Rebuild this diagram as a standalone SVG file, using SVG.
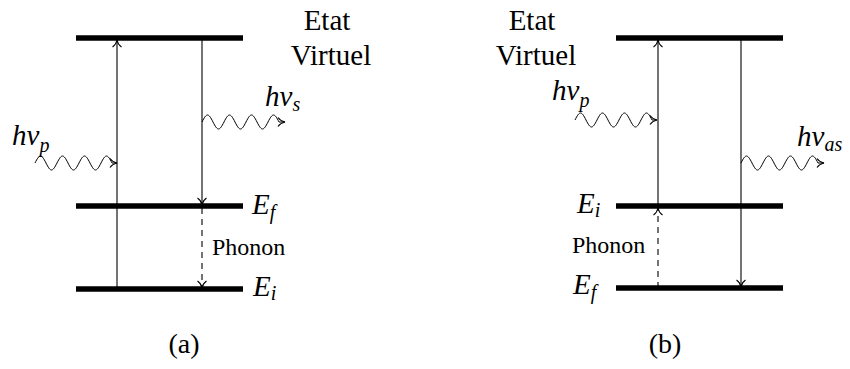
<svg xmlns="http://www.w3.org/2000/svg" width="850" height="369" viewBox="0 0 850 369">
<style>
.bar{stroke:#000;stroke-width:5.5;fill:none}
.ln{stroke:#000;stroke-width:1.1;fill:none}
.dash{stroke-dasharray:6 5}
.wave{stroke:#000;stroke-width:1;fill:none}
.tip{stroke:#000;stroke-width:1.1;fill:none}
.rm{font-family:"Liberation Serif","DejaVu Serif",serif}
.mi{font-family:"Liberation Serif","DejaVu Serif",serif;font-style:italic}
</style>
<rect width="850" height="369" fill="#fff"/>

<g id="a-virtual">
<line class="bar" x1="76" y1="38" x2="243" y2="38"/>
<text class="rm" x="327" y="30" font-size="29" text-anchor="middle">Etat</text>
<text class="rm" x="331" y="65" font-size="29" text-anchor="middle">Virtuel</text>
</g>
<g id="a-Ef">
<line class="bar" x1="76" y1="206" x2="243" y2="206"/>
<text class="mi" x="252" y="214" font-size="29">E<tspan font-size="20" dy="5">f</tspan></text>
</g>
<g id="a-Ei">
<line class="bar" x1="76" y1="289" x2="243" y2="289"/>
<text class="mi" x="253" y="296" font-size="29">E<tspan font-size="20" dy="4">i</tspan></text>
</g>
<g id="a-labels">
<text class="mi" x="12" y="145" font-size="29">hν<tspan font-size="20" dy="7">p</tspan></text>
<text class="mi" x="265" y="106" font-size="29">hν<tspan font-size="20" dy="5">s</tspan></text>
<text class="rm" x="212" y="255" font-size="24">Phonon</text>
<text class="rm" x="184" y="353" font-size="28" text-anchor="middle">(a)</text>
</g>

<g id="b-virtual">
<line class="bar" x1="616" y1="38" x2="783" y2="38"/>
<text class="rm" x="532" y="30" font-size="29" text-anchor="middle">Etat</text>
<text class="rm" x="536" y="65" font-size="29" text-anchor="middle">Virtuel</text>
</g>
<g id="b-Ei">
<line class="bar" x1="616" y1="206" x2="783" y2="206"/>
<text class="mi" x="577" y="213" font-size="29">E<tspan font-size="20" dy="4">i</tspan></text>
</g>
<g id="b-Ef">
<line class="bar" x1="616" y1="288" x2="783" y2="288"/>
<text class="mi" x="573" y="294" font-size="29">E<tspan font-size="20" dy="5">f</tspan></text>
</g>
<g id="b-labels">
<text class="mi" x="552" y="100" font-size="29">hν<tspan font-size="20" dy="7">p</tspan></text>
<text class="mi" x="797" y="146" font-size="29">hν<tspan font-size="20" dy="5">as</tspan></text>
<text class="rm" x="572" y="253" font-size="24">Phonon</text>
<text class="rm" x="665" y="353" font-size="28" text-anchor="middle">(b)</text>
</g>

<g id="connectors">
<line class="ln" x1="117" y1="289" x2="117" y2="40"/>
<path class="tip" d="M112.5,47 C115.5,45 116.5,42.5 117,40 C117.5,42.5 118.5,45 121.5,47"/>
<line class="ln" x1="202" y1="38" x2="202" y2="205"/>
<path class="tip" d="M197.5,198 C200.5,200 201.5,202.5 202,205 C202.5,202.5 203.5,200 206.5,198"/>
<line class="ln dash" x1="202" y1="208" x2="202" y2="288"/>
<path class="tip" d="M197.5,281 C200.5,283 201.5,285.5 202,288 C202.5,285.5 203.5,283 206.5,281"/>
<path class="wave" d="M35,163 c4.66,-9.33 6.34,-9.33 11,0 s6.34,9.33 11,0 s6.34,-9.33 11,0 s6.34,9.33 11,0 s6.34,-9.33 11,0 s6.34,9.33 11,0 s6.34,-9.33 11,0 L117,163"/>
<path class="tip" d="M110,158.5 C112,161.5 114.5,162.5 117,163 C114.5,163.5 112,164.5 110,167.5"/>
<path class="wave" d="M202,122 c4.66,-9.33 6.34,-9.33 11,0 s6.34,9.33 11,0 s6.34,-9.33 11,0 s6.34,9.33 11,0 s6.34,-9.33 11,0 s6.34,9.33 11,0 s6.34,-9.33 11,0 L285,122"/>
<path class="tip" d="M278,117.5 C280,120.5 282.5,121.5 285,122 C282.5,122.5 280,123.5 278,126.5"/>
<line class="ln" x1="658" y1="206" x2="658" y2="40"/>
<path class="tip" d="M653.5,47 C656.5,45 657.5,42.5 658,40 C658.5,42.5 659.5,45 662.5,47"/>
<line class="ln dash" x1="658" y1="288" x2="658" y2="208"/>
<path class="tip" d="M653.5,215 C656.5,213 657.5,210.5 658,208 C658.5,210.5 659.5,213 662.5,215"/>
<line class="ln" x1="741" y1="38" x2="741" y2="287"/>
<path class="tip" d="M736.5,280 C739.5,282 740.5,284.5 741,287 C741.5,284.5 742.5,282 745.5,280"/>
<path class="wave" d="M575,120 c4.66,-9.33 6.34,-9.33 11,0 s6.34,9.33 11,0 s6.34,-9.33 11,0 s6.34,9.33 11,0 s6.34,-9.33 11,0 s6.34,9.33 11,0 s6.34,-9.33 11,0 L657,120"/>
<path class="tip" d="M650,115.5 C652,118.5 654.5,119.5 657,120 C654.5,120.5 652,121.5 650,124.5"/>
<path class="wave" d="M741,163 c4.66,-9.33 6.34,-9.33 11,0 s6.34,9.33 11,0 s6.34,-9.33 11,0 s6.34,9.33 11,0 s6.34,-9.33 11,0 s6.34,9.33 11,0 s6.34,-9.33 11,0 L824,163"/>
<path class="tip" d="M817,158.5 C819,161.5 821.5,162.5 824,163 C821.5,163.5 819,164.5 817,167.5"/>
</g>
</svg>
